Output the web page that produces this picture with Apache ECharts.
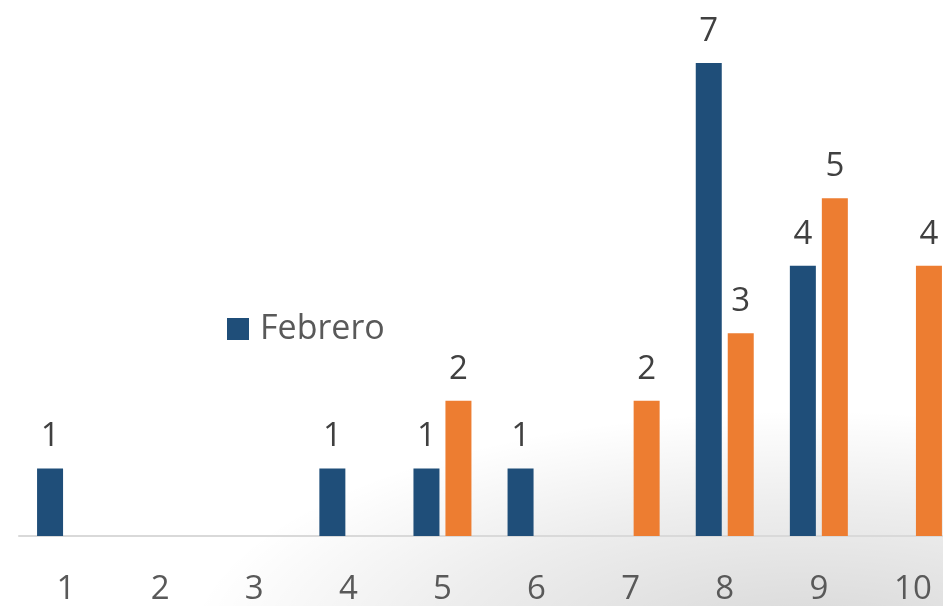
<!DOCTYPE html>
<html><head><meta charset="utf-8">
<script src="https://cdn.jsdelivr.net/npm/echarts@6/dist/echarts.min.js"></script>
<style>html,body{margin:0;padding:0;background:#fff;overflow:hidden;width:943px;height:606px}#c{width:960px;height:606px}</style>
</head><body><div id="c"></div>
<script>
var categories = ['1','2','3','4','5','6','7','8','9','10'];
var febrero = [1,0,0,1,1,1,0,7,4,0];
var marzo = [0,0,0,0,2,0,2,3,5,4];
var legendNames = ['Febrero'];

var chart = echarts.init(document.getElementById('c'), null, {renderer:'canvas'});
var font = '"Open Sans", "Noto Sans", sans-serif';
function lbl(p){ return p.value === 0 ? '' : String(p.value); }
chart.setOption({
  animation:false,
  backgroundColor:'#ffffff',
  graphic:[{
    type:'circle', x:810, y:650, scaleX:2.6, scaleY:1, z:-10, silent:true,
    shape:{cx:0, cy:0, r:240},
    style:{fill:new echarts.graphic.RadialGradient(0.5,0.5,0.5,[
      {offset:0,color:'rgba(0,0,0,0.16)'},
      {offset:0.6,color:'rgba(0,0,0,0.07)'},
      {offset:1,color:'rgba(0,0,0,0)'}])}
  }],
  legend:{data:legendNames, left:222, top:307, itemWidth:22, itemHeight:22, icon:'rect',
    textStyle:{fontFamily:font, fontSize:34, color:'#595959', padding:[0,0,0,6]}},
  grid:{left:19, top:63, width:941, height:474, containLabel:false},
  xAxis:{type:'category', data:categories,
    axisLine:{lineStyle:{color:'#d9d9d9', width:2}},
    axisTick:{show:false},
    axisLabel:{fontFamily:font, fontSize:33, color:'#595959', margin:37}},
  yAxis:{type:'value', min:0, max:7, show:false, splitLine:{show:false}},
  series:[
    {name:'Febrero', type:'bar', data:febrero, barWidth:26, barGap:'23%',
     itemStyle:{color:'#1f4e79'},
     label:{show:true, position:'top', distance:15, formatter:lbl,
       fontFamily:font, fontSize:33, color:'#404040'}},
    {name:'Marzo', type:'bar', data:marzo, barWidth:26,
     itemStyle:{color:'#ed7d31'},
     label:{show:true, position:'top', distance:15, formatter:lbl,
       fontFamily:font, fontSize:33, color:'#404040'}}
  ]
});
</script></body></html>
